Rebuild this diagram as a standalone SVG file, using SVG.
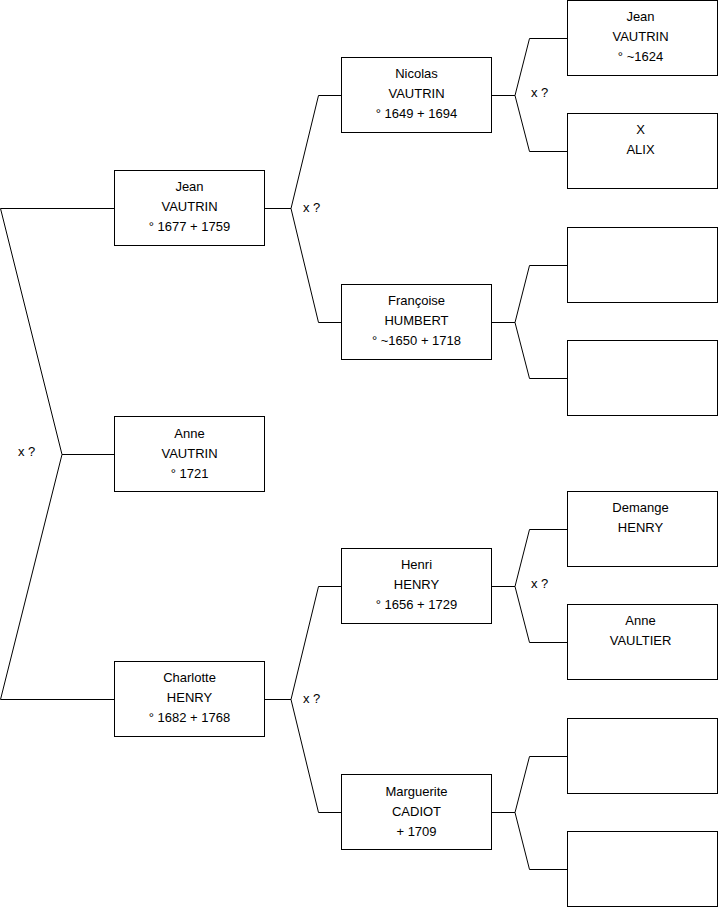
<svg xmlns="http://www.w3.org/2000/svg" width="719" height="908" viewBox="0 0 719 908">
<style>
.box{fill:#fff;stroke:#000;stroke-width:1}
.c{fill:none;stroke:#000;stroke-width:1}
text{font-family:"Liberation Sans",Arial,sans-serif;font-size:13px;fill:#000}
.m{text-anchor:middle}
</style>
<rect width="719" height="908" fill="#fff"/>
<g id="connectors">
<polyline class="c" points="114,208.5 0.5,208.5 62,454.5 0.5,699.5 114,699.5"/>
<line class="c" x1="62" y1="454.5" x2="114" y2="454.5"/>
<text x="18" y="456">x ?</text>
<polyline class="c" points="265,208.5 291,208.5"/>
<polyline class="c" points="341,95.5 318.5,95.5 291,208.5 318.5,322.5 341,322.5"/>
<text x="303" y="212">x ?</text>
<polyline class="c" points="265,699.5 291,699.5"/>
<polyline class="c" points="341,586.5 318.5,586.5 291,699.5 318.5,812.5 341,812.5"/>
<text x="303" y="703">x ?</text>
<polyline class="c" points="492,95.5 515,95.5"/>
<polyline class="c" points="567,38.5 529.5,38.5 515,95.5 529.5,151.5 567,151.5"/>
<text x="531" y="97">x ?</text>
<polyline class="c" points="492,322.5 515,322.5"/>
<polyline class="c" points="567,265.5 529.5,265.5 515,322.5 529.5,378.5 567,378.5"/>
<polyline class="c" points="492,586.5 515,586.5"/>
<polyline class="c" points="567,529.5 529.5,529.5 515,586.5 529.5,642.5 567,642.5"/>
<text x="531" y="588">x ?</text>
<polyline class="c" points="492,812.5 515,812.5"/>
<polyline class="c" points="567,756.5 529.5,756.5 515,812.5 529.5,869.5 567,869.5"/>
</g>
<g id="jean1677"><rect class="box" x="114.5" y="170.5" width="150" height="75"/><text class="m" x="189.5" y="191">Jean</text><text class="m" x="189.5" y="211">VAUTRIN</text><text class="m" x="189.5" y="231">° 1677 + 1759</text></g>
<g id="anne1721"><rect class="box" x="114.5" y="416.5" width="150" height="75"/><text class="m" x="189.5" y="438">Anne</text><text class="m" x="189.5" y="458">VAUTRIN</text><text class="m" x="189.5" y="478">° 1721</text></g>
<g id="charlotte"><rect class="box" x="114.5" y="661.5" width="150" height="75"/><text class="m" x="189.5" y="682">Charlotte</text><text class="m" x="189.5" y="702">HENRY</text><text class="m" x="189.5" y="722">° 1682 + 1768</text></g>
<g id="nicolas"><rect class="box" x="341.5" y="57.5" width="150" height="75"/><text class="m" x="416.5" y="78">Nicolas</text><text class="m" x="416.5" y="98">VAUTRIN</text><text class="m" x="416.5" y="118">° 1649 + 1694</text></g>
<g id="francoise"><rect class="box" x="341.5" y="284.5" width="150" height="75"/><text class="m" x="416.5" y="305">Françoise</text><text class="m" x="416.5" y="325">HUMBERT</text><text class="m" x="416.5" y="345">° ~1650 + 1718</text></g>
<g id="henri"><rect class="box" x="341.5" y="548.5" width="150" height="75"/><text class="m" x="416.5" y="569">Henri</text><text class="m" x="416.5" y="589">HENRY</text><text class="m" x="416.5" y="609">° 1656 + 1729</text></g>
<g id="marguerite"><rect class="box" x="341.5" y="774.5" width="150" height="75"/><text class="m" x="416.5" y="796">Marguerite</text><text class="m" x="416.5" y="816">CADIOT</text><text class="m" x="416.5" y="836">+ 1709</text></g>
<g id="jean1624"><rect class="box" x="567.5" y="0.5" width="150" height="75"/><text class="m" x="640.5" y="21">Jean</text><text class="m" x="640.5" y="41">VAUTRIN</text><text class="m" x="640.5" y="61">° ~1624</text></g>
<g id="xalix"><rect class="box" x="567.5" y="113.5" width="150" height="75"/><text class="m" x="640.5" y="134">X</text><text class="m" x="640.5" y="154">ALIX</text></g>
<g id="empty1"><rect class="box" x="567.5" y="227.5" width="150" height="75"/></g>
<g id="empty2"><rect class="box" x="567.5" y="340.5" width="150" height="75"/></g>
<g id="demange"><rect class="box" x="567.5" y="491.5" width="150" height="75"/><text class="m" x="640.5" y="512">Demange</text><text class="m" x="640.5" y="532">HENRY</text></g>
<g id="annevaultier"><rect class="box" x="567.5" y="604.5" width="150" height="75"/><text class="m" x="640.5" y="645">VAULTIER</text><text class="m" x="640.5" y="625">Anne</text></g>
<g id="empty3"><rect class="box" x="567.5" y="718.5" width="150" height="75"/></g>
<g id="empty4"><rect class="box" x="567.5" y="831.5" width="150" height="75"/></g>
</svg>
